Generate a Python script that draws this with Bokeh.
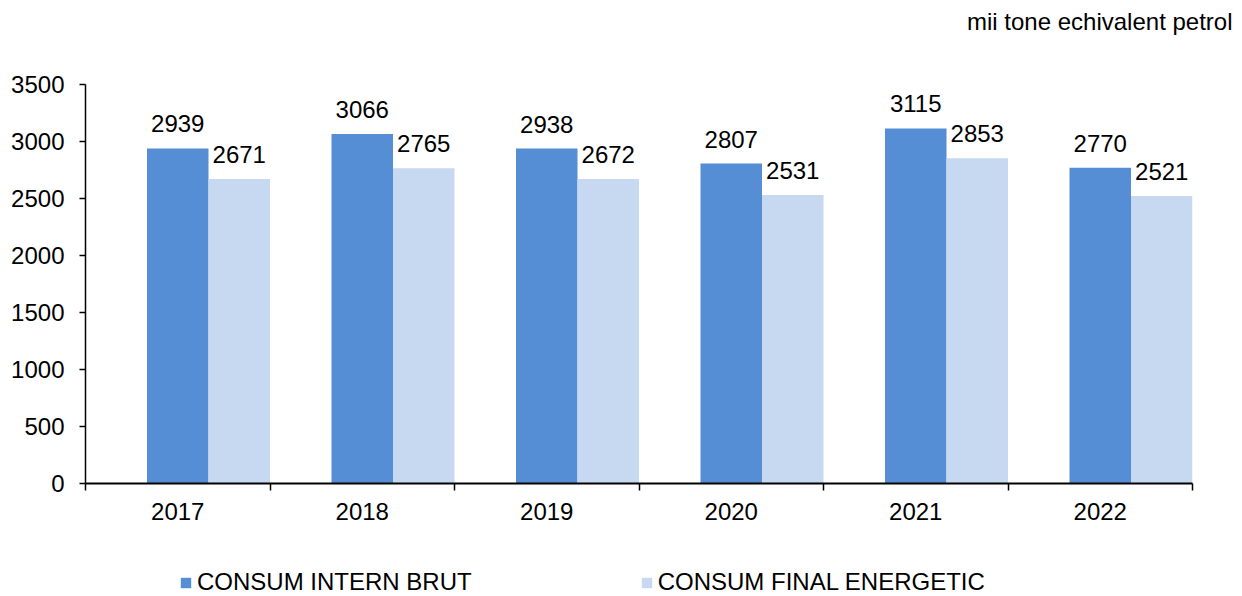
from bokeh.plotting import figure
from bokeh.models import (ColumnDataSource, Range1d, FixedTicker, Legend, LegendItem)
from bokeh.layouts import column
from bokeh.transform import dodge
from bokeh.core.properties import value
from bokeh.embed import file_html
from bokeh.resources import INLINE

years = ["2017", "2018", "2019", "2020", "2021", "2022"]
consum_intern_brut = [2939, 3066, 2938, 2807, 3115, 2770]
consum_final_energetic = [2671, 2765, 2672, 2531, 2853, 2521]
y_ticks = [0, 500, 1000, 1500, 2000, 2500, 3000, 3500]
series_names = ["CONSUM INTERN BRUT", "CONSUM FINAL ENERGETIC"]
unit_text = "mii tone echivalent petrol"

FONT = "Liberation Sans"
FS = "24px"
DARK = "#558ED5"
LIGHT = "#C6D9F1"


def blank_strip(h):
    f = figure(width=1242, height=h, output_backend="svg", toolbar_location=None,
               x_range=Range1d(0, 1), y_range=Range1d(0, 1),
               min_border_left=85, min_border_right=50, min_border_top=0,
               min_border_bottom=0)
    f.axis.visible = False
    f.grid.visible = False
    f.outline_line_color = None
    f.background_fill_color = None
    f.border_fill_color = None
    return f


# ---- top strip with the unit text
H0 = 40
t = blank_strip(H0)
t.title.text = unit_text
t.title.align = "right"
t.title.offset = -40
t.title.standoff = 12
t.title.text_font = FONT
t.title.text_font_size = FS
t.title.text_font_style = "normal"
t.title.text_color = "black"

# ---- main chart
centers = [i + 0.5 for i in range(len(years))]
src = ColumnDataSource(dict(x=centers, a=consum_intern_brut, b=consum_final_energetic,
                            at=[str(v) for v in consum_intern_brut],
                            bt=[str(v) for v in consum_final_energetic]))

H1 = 510
p = figure(width=1242, height=H1, output_backend="svg", toolbar_location=None,
           x_range=Range1d(0, len(years)), y_range=Range1d(0, 3500),
           min_border_left=85, min_border_right=50, min_border_top=84 - H0,
           min_border_bottom=H0 + H1 - 483)
p.outline_line_color = None
p.xgrid.grid_line_color = None
p.ygrid.grid_line_color = None

w = 1.0 / 3
p.vbar(x="x", top="a", width=w, source=src, color=DARK, line_color=None)
p.vbar(x=dodge("x", w, range=p.x_range), top="b", width=w, source=src,
       color=LIGHT, line_color=None)

p.text(x="x", y="a", text="at", source=src, text_align="center", text_baseline="bottom",
       y_offset=-16, text_font=value(FONT), text_font_size=FS, text_color="black")
p.text(x=dodge("x", w, range=p.x_range), y="b", text="bt", source=src, text_align="center",
       text_baseline="bottom", y_offset=-16, text_font=value(FONT), text_font_size=FS,
       text_color="black")

yax = p.yaxis[0]
yax.ticker = FixedTicker(ticks=y_ticks)
yax.major_tick_out = 6
yax.major_tick_in = 0
yax.minor_tick_out = 0
yax.major_label_standoff = 15
yax.major_label_text_font = FONT
yax.major_label_text_font_size = FS
yax.major_label_text_color = "black"
yax.axis_line_color = "black"
yax.axis_line_width = 1.5
yax.major_tick_line_width = 1.5

xax = p.xaxis[0]
xax.ticker = FixedTicker(ticks=centers, minor_ticks=list(range(len(years) + 1)))
xax.major_label_overrides = {c: y for c, y in zip(centers, years)}
xax.major_tick_out = 0
xax.major_tick_in = 0
xax.minor_tick_out = 7
xax.minor_tick_in = 0
xax.minor_tick_line_color = "black"
xax.minor_tick_line_width = 1.5
xax.major_label_standoff = 12
xax.major_label_text_font = FONT
xax.major_label_text_font_size = FS
xax.major_label_text_color = "black"
xax.axis_line_color = "black"
xax.axis_line_width = 2

# ---- legend strip below the chart
H2 = 596 - H0 - H1
q = blank_strip(H2)
# legend proxies: zero-height bars, so nothing is drawn in the strip itself
e1 = q.vbar(x=[0.5], top=[0], bottom=[0], width=0.1, color=DARK, line_color=None)
e2 = q.vbar(x=[0.5], top=[0], bottom=[0], width=0.1, color=LIGHT, line_color=None)
lg = Legend(items=[LegendItem(label=series_names[0], renderers=[e1]),
                   LegendItem(label=series_names[1], renderers=[e2])],
            location=(94, 0), orientation="horizontal",
            padding=0, margin=0, spacing=168, border_line_color=None,
            background_fill_alpha=0,
            glyph_width=13, glyph_height=13, label_standoff=5,
            label_text_font=FONT, label_text_font_size=FS, label_text_color="black",
            label_height=20)
q.add_layout(lg, "center")

open("out.html", "w").write(file_html(column(t, p, q, spacing=0), INLINE))
